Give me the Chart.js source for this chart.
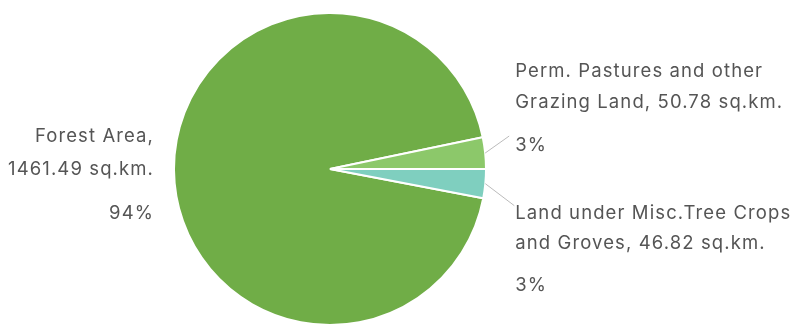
<!DOCTYPE html>
<html>
<head>
<meta charset="utf-8">
<script src="https://cdn.jsdelivr.net/npm/chart.js@4/dist/chart.umd.min.js"></script>
<style>
  html, body { margin: 0; padding: 0; background: #fff; }
  #wrap { width: 807px; height: 326px; }
</style>
</head>
<body>
<div id="wrap"><canvas id="chart" width="807" height="326"></canvas></div>
<script>
// land use figures (sq.km.)
var categories = ["Forest Area", "Perm. Pastures and other Grazing Land", "Land under Misc.Tree Crops and Groves"];
var areas = [1461.49, 50.78, 46.82];
var sliceColors = ['#70ad47', '#8cc86a', '#7fcfbf'];
// how each label is broken into lines
var labelLines = [
    ["Forest Area,", "1461.49 sq.km."],
    ["Perm. Pastures and other", "Grazing Land, 50.78 sq.km."],
    ["Land under Misc.Tree Crops", "and Groves, 46.82 sq.km."]
];

var total = areas.reduce(function (a, b) { return a + b; }, 0);

// label placement relative to the slice's outer mid point
var labelLayout = [
    { line: null, align: 'right', dx: -20, dy: [-34, -1, 43] },
    { line: [24, -17], align: 'left', dx: 30, dy: [-82, -51, -8] },
    { line: [29, 22], align: 'left', dx: 30, dy: [30, 60, 102] }
];

var outerLabels = {
    id: 'outerLabels',
    afterDatasetsDraw: function (chart) {
        var ctx = chart.ctx;
        var meta = chart.getDatasetMeta(0);
        ctx.save();
        ctx.font = '18.5px Inter, sans-serif';
        ctx.letterSpacing = '1.1px';
        ctx.fillStyle = '#555';
        ctx.textBaseline = 'middle';
        meta.data.forEach(function (arc, i) {
            var p = arc.getProps(['x', 'y', 'startAngle', 'endAngle', 'outerRadius']);
            var mid = (p.startAngle + p.endAngle) / 2;
            var ox = p.x + Math.cos(mid) * p.outerRadius;
            var oy = p.y + Math.sin(mid) * p.outerRadius;
            var lay = labelLayout[i];
            if (lay.line) {
                ctx.strokeStyle = '#bbb';
                ctx.lineWidth = 1;
                ctx.beginPath();
                ctx.moveTo(ox, oy);
                ctx.lineTo(ox + lay.line[0], oy + lay.line[1]);
                ctx.stroke();
            }
            ctx.textAlign = lay.align;
            var tx = ox + lay.dx;
            var pct = Math.round(areas[i] / total * 100) + '%';
            var texts = labelLines[i].concat([pct]);
            texts.forEach(function (t, k) {
                ctx.fillText(t, tx, oy + lay.dy[k]);
            });
        });
        ctx.restore();
    }
};

new Chart(document.getElementById('chart').getContext('2d'), {
    type: 'pie',
    data: {
        labels: categories,
        datasets: [{
            data: areas,
            backgroundColor: sliceColors,
            borderColor: '#ffffff',
            borderWidth: 2
        }]
    },
    options: {
        responsive: false,
        animation: false,
        rotation: 100.8,
        layout: { padding: { top: 12, bottom: 0, left: 16, right: 163 } },
        plugins: {
            legend: { display: false },
            tooltip: { enabled: false }
        }
    },
    plugins: [outerLabels]
});
</script>
</body>
</html>
